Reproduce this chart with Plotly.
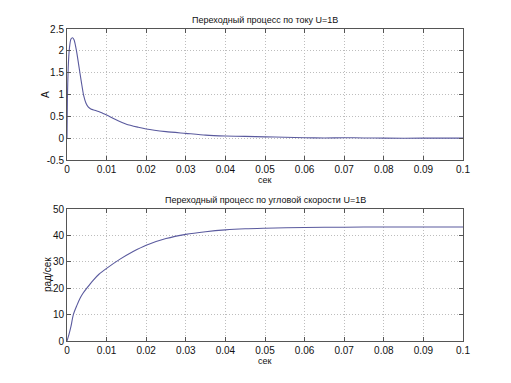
import plotly.graph_objects as go

# Current transient (A)
t_cur = [0, 0.0001, 0.0003, 0.0006, 0.001, 0.0014, 0.0018, 0.0024, 0.003, 0.0036, 0.0042, 0.0048,
         0.0054, 0.006, 0.007, 0.008, 0.009, 0.010, 0.012, 0.015, 0.018, 0.020, 0.025, 0.030,
         0.035, 0.040, 0.045, 0.050, 0.055, 0.060, 0.065, 0.070, 0.075, 0.080, 0.090, 0.100]
i_cur = [0, 0.9, 1.6, 2.05, 2.27, 2.3, 2.25, 2.0, 1.65, 1.3, 0.98, 0.8,
         0.71, 0.67, 0.64, 0.61, 0.57, 0.53, 0.44, 0.32, 0.25, 0.21, 0.15, 0.11,
         0.07, 0.05, 0.04, 0.03, 0.02, 0.01, 0.005, 0.01, 0.005, 0.0, 0.0, 0.0]

# Angular speed transient (rad/s)
t_w = [0, 0.0005, 0.001, 0.0016, 0.0025, 0.0033, 0.004, 0.005, 0.0066, 0.008, 0.010, 0.0134,
       0.0167, 0.020, 0.025, 0.030, 0.035, 0.040, 0.045, 0.050, 0.060, 0.070, 0.080, 0.090, 0.100]
w = [0, 2.5, 5.5, 10, 13.5, 16.2, 18, 20, 23, 25.2, 27.5, 31.0,
     33.9, 36.3, 38.8, 40.4, 41.4, 42.1, 42.5, 42.7, 43.0, 43.1, 43.2, 43.2, 43.2]

x_ticks = [0, 0.01, 0.02, 0.03, 0.04, 0.05, 0.06, 0.07, 0.08, 0.09, 0.1]
x_labels = ["0", "0.01", "0.02", "0.03", "0.04", "0.05", "0.06", "0.07", "0.08", "0.09", "0.1"]
y1_ticks = [-0.5, 0, 0.5, 1, 1.5, 2, 2.5]
y1_labels = ["-0.5", "0", "0.5", "1", "1.5", "2", "2.5"]
y2_ticks = [0, 10, 20, 30, 40, 50]

title_top = "Переходный процесс по току U=1В"
title_bot = "Переходный процесс по угловой скорости U=1В"

W, H = 511, 383
OFF = 8  # page body margin
line_col = "#5a5a9e"
font = dict(family="Liberation Sans, Arial, sans-serif", size=10, color="#111111")


def px(x):
    return (x - OFF) / W


def py(y):
    return (H - (y - OFF)) / H


fig = go.Figure()
fig.add_trace(go.Scatter(x=t_cur, y=i_cur, mode="lines", line=dict(color=line_col, width=1.1,
                         shape="spline", smoothing=0.6), xaxis="x", yaxis="y", showlegend=False))
fig.add_trace(go.Scatter(x=t_w, y=w, mode="lines", line=dict(color=line_col, width=1.1,
                         shape="spline", smoothing=0.8), xaxis="x2", yaxis="y2", showlegend=False))

xd = [px(67), px(463)]
y1d = [py(160), py(29)]
y2d = [py(341), py(209)]

ax_common = dict(showline=True, linecolor="#555555", linewidth=1, mirror="ticks",
                 ticks="inside", ticklen=4, tickcolor="#555555",
                 showgrid=True, gridcolor="#bdbdbd", griddash="1px,2px", gridwidth=1,
                 zeroline=False, tickfont=font, automargin=False)

fig.update_layout(
    width=W, height=H, margin=dict(l=0, r=0, t=0, b=0),
    paper_bgcolor="white", plot_bgcolor="white", font=font,
    xaxis=dict(domain=xd, range=[0, 0.1], tickvals=x_ticks, ticktext=x_labels, anchor="y", **ax_common),
    yaxis=dict(domain=y1d, range=[-0.5, 2.5], tickvals=y1_ticks, ticktext=y1_labels, anchor="x", **ax_common),
    xaxis2=dict(domain=xd, range=[0, 0.1], tickvals=x_ticks, ticktext=x_labels, anchor="y2", **ax_common),
    yaxis2=dict(domain=y2d, range=[0, 50], tickvals=y2_ticks, anchor="x2", **ax_common),
)

cx = px((67 + 463) / 2)
ann = [
    dict(text=title_top, x=cx, y=py(20), font=dict(size=9)),
    dict(text=title_bot, x=cx, y=py(200), font=dict(size=9)),
    dict(text="сек", x=cx, y=py(180), font=dict(size=9)),
    dict(text="сек", x=cx, y=py(361), font=dict(size=9)),
    dict(text="А", x=px(45), y=py(95), textangle=-90, font=dict(size=10)),
    dict(text="рад/сек", x=px(47), y=py(275), textangle=-90, font=dict(size=10)),
]
for a in ann:
    fig.add_annotation(xref="paper", yref="paper", showarrow=False, xanchor="center", yanchor="middle", **a)

fig.write_html("out.html")
